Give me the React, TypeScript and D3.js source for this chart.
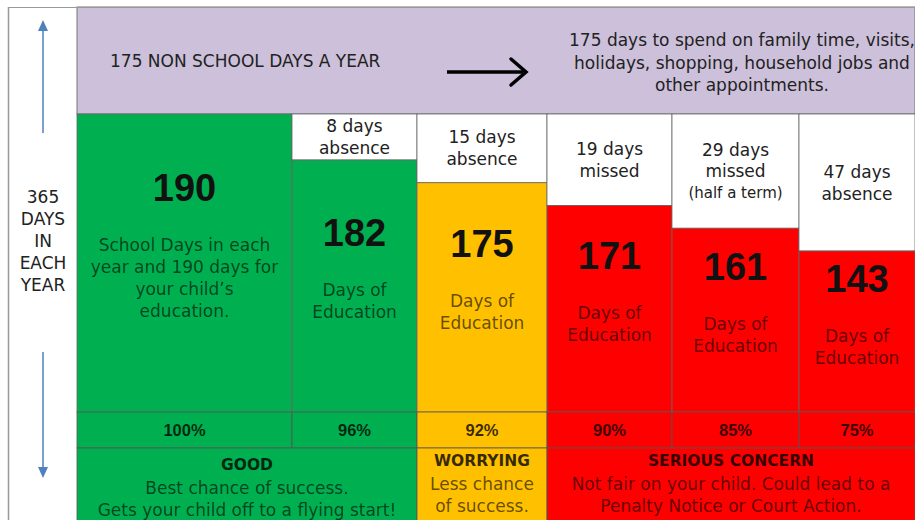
import React from "react";
import * as d3 from "d3";

// ---------- data ----------
const educationDays = [190, 182, 175, 171, 161, 143];
const attendancePct = ["100%", "96%", "92%", "90%", "85%", "75%"];
const absenceLabels: string[][] = [
  [],
  ["8 days", "absence"],
  ["15 days", "absence"],
  ["19 days", "missed"],
  ["29 days", "missed", "(half a term)"],
  ["47 days", "absence"],
];
const educationLines: string[][] = [
  ["School Days in each", "year and 190 days for", "your child\u2019s", "education."],
  ["Days of", "Education"],
  ["Days of", "Education"],
  ["Days of", "Education"],
  ["Days of", "Education"],
  ["Days of", "Education"],
];
const columnStatus = ["good", "good", "worrying", "serious", "serious", "serious"];
const statusNames = ["good", "worrying", "serious"];
const statusTitles = ["GOOD", "WORRYING", "SERIOUS CONCERN"];
const statusLines: string[][] = [
  ["Best chance of success.", "Gets your child off to a flying start!"],
  ["Less chance", "of success."],
  ["Not fair on your child. Could lead to a", "Penalty Notice or Court Action."],
];
const headerLeft = "175 NON SCHOOL DAYS A YEAR";
const headerRight = [
  "175 days to spend on family time, visits,",
  "holidays, shopping, household jobs and",
  "other appointments.",
];
const yearLabel = ["365", "DAYS", "IN", "EACH", "YEAR"];

// ---------- layout ----------
const W = 915;
const H = 520;
const OUTER_L = 8;
const OUTER_T = 7;
const LEFT_COL_R = 77;
const HEADER_B = 114;
const BARS_B = 412;
const PCT_B = 448;
const colWeights = [215, 125, 130, 125, 127, 116];

const FONT = "'DejaVu Sans', sans-serif";
const FONT_NUM = "'Liberation Sans', Arial, sans-serif";

export default function App() {
  const x = d3
    .scaleLinear()
    .domain([0, d3.sum(colWeights)])
    .range([LEFT_COL_R, W]);
  const cum = [0, ...Array.from(d3.cumsum(colWeights))];
  const edges = cum.map((c) => x(c));

  // stepped tops of the education bars, by column rank
  const yTop = d3
    .scaleLinear()
    .domain([0, 1, educationDays.length - 1])
    .range([HEADER_B, HEADER_B + 46, HEADER_B + 137]);

  const color = d3
    .scaleOrdinal<string, string>()
    .domain(statusNames)
    .range(["#00B050", "#FFC000", "#FF0000"]);

  const groups = statusNames.map((s, gi) => {
    const idx = columnStatus
      .map((c, i) => (c === s ? i : -1))
      .filter((i) => i >= 0);
    return {
      status: s,
      title: statusTitles[gi],
      lines: statusLines[gi],
      x0: edges[idx[0]],
      x1: edges[idx[idx.length - 1] + 1],
    };
  });

  const lineStroke = "#666";

  return (
    <svg
      width={W}
      height={H}
      style={{ position: "absolute", left: 0, top: 0, display: "block", background: "#fff" }}
    >
      {/* header */}
      <rect
        x={LEFT_COL_R}
        y={OUTER_T}
        width={W - LEFT_COL_R}
        height={HEADER_B - OUTER_T}
        fill="#CCC0DA"
        stroke="#777"
        strokeWidth={1}
      />
      <text
        x={110}
        y={61}
        fontFamily={FONT}
        fontSize={17}
        fill="#222"
        dominantBaseline="central"
      >
        {headerLeft}
      </text>
      <line x1={447} y1={72} x2={523} y2={72} stroke="#000" strokeWidth={3.5} />
      <polyline
        points="511,59 526,72 511,85"
        fill="none"
        stroke="#000"
        strokeWidth={3.5}
        strokeLinecap="round"
        strokeLinejoin="miter"
      />
      {headerRight.map((t, i) => (
        <text
          key={i}
          x={742}
          y={40 + i * 22.5}
          textAnchor="middle"
          fontFamily={FONT}
          fontSize={17}
          fill="#222"
          dominantBaseline="central"
        >
          {t}
        </text>
      ))}

      {/* columns */}
      {educationDays.map((d, i) => {
        const x0 = edges[i];
        const x1 = edges[i + 1];
        const cx = (x0 + x1) / 2;
        const top = yTop(i);
        const fill = color(columnStatus[i]);
        const abs = absenceLabels[i];
        const absMid = (HEADER_B + top) / 2;
        const absSpacing = abs.length > 2 ? 21.5 : 22;
        const lines = educationLines[i];
        const n = lines.length;
        const mid = (top + BARS_B) / 2;
        const numY = mid - 53 - 11 * (n - 2);
        return (
          <g key={i}>
            {top > HEADER_B && (
              <rect
                x={x0}
                y={HEADER_B}
                width={x1 - x0}
                height={top - HEADER_B}
                fill="#fff"
                stroke={lineStroke}
                strokeWidth={0.8}
              />
            )}
            {abs.map((t, k) => (
              <text
                key={k}
                x={cx}
                y={absMid + (k - (abs.length - 1) / 2) * absSpacing}
                textAnchor="middle"
                dominantBaseline="central"
                fontFamily={FONT}
                fontSize={k === 2 ? 15 : 17}
                fill="#222"
              >
                {t}
              </text>
            ))}
            <rect
              x={x0}
              y={top}
              width={x1 - x0}
              height={BARS_B - top}
              fill={fill}
              stroke={lineStroke}
              strokeWidth={0.8}
            />
            <text
              x={cx}
              y={numY}
              textAnchor="middle"
              dominantBaseline="central"
              fontFamily={FONT_NUM}
              fontWeight="bold"
              fontSize={38}
              fill="#111"
            >
              {d}
            </text>
            {lines.map((t, k) => (
              <text
                key={k}
                x={cx}
                y={numY + 57 + k * 22}
                textAnchor="middle"
                dominantBaseline="central"
                fontFamily={FONT}
                fontSize={17}
                fill="#000"
                fillOpacity={0.62}
              >
                {t}
              </text>
            ))}
            <rect
              x={x0}
              y={BARS_B}
              width={x1 - x0}
              height={PCT_B - BARS_B}
              fill={fill}
              stroke="#555"
              strokeWidth={0.8}
            />
            <text
              x={cx}
              y={(BARS_B + PCT_B) / 2}
              textAnchor="middle"
              dominantBaseline="central"
              fontFamily={FONT_NUM}
              fontWeight="bold"
              fontSize={16.5}
              fill="#000"
              fillOpacity={0.78}
            >
              {attendancePct[i]}
            </text>
          </g>
        );
      })}

      {/* status row */}
      {groups.map((g, gi) => {
        const cx = (g.x0 + g.x1) / 2;
        const base = gi === 0 ? 465 : 461;
        return (
          <g key={gi}>
            <rect
              x={g.x0}
              y={PCT_B}
              width={g.x1 - g.x0}
              height={H - PCT_B + 2}
              fill={color(g.status)}
              stroke="#555"
              strokeWidth={0.8}
            />
            <text
              x={cx}
              y={base}
              textAnchor="middle"
              dominantBaseline="central"
              fontFamily={FONT}
              fontWeight="bold"
              fontSize={15.5}
              fill="#000"
              fillOpacity={0.8}
            >
              {g.title}
            </text>
            {g.lines.map((t, k) => (
              <text
                key={k}
                x={cx}
                y={base + 22.5 + k * 22.5}
                textAnchor="middle"
                dominantBaseline="central"
                fontFamily={FONT}
                fontSize={17}
                fill="#000"
                fillOpacity={0.62}
              >
                {t}
              </text>
            ))}
          </g>
        );
      })}

      {/* left column */}
      {yearLabel.map((t, i) => (
        <text
          key={i}
          x={43}
          y={197 + i * 22}
          textAnchor="middle"
          dominantBaseline="central"
          fontFamily={FONT}
          fontSize={17}
          fill="#222"
        >
          {t}
        </text>
      ))}
      <line x1={43} y1={133} x2={43} y2={28} stroke="#4F81BD" strokeWidth={1.5} />
      <polygon points="43,20 38,31 48,31" fill="#4F81BD" />
      <line x1={43} y1={352} x2={43} y2={468} stroke="#4F81BD" strokeWidth={1.5} />
      <polygon points="43,478 38,467 48,467" fill="#4F81BD" />

      {/* outer border */}
      <line x1={OUTER_L + 0.5} y1={OUTER_T} x2={OUTER_L + 0.5} y2={H} stroke="#999" strokeWidth={1.5} />
      <line x1={OUTER_L} y1={OUTER_T + 0.5} x2={W} y2={OUTER_T + 0.5} stroke="#999" strokeWidth={1} />
    </svg>
  );
}
